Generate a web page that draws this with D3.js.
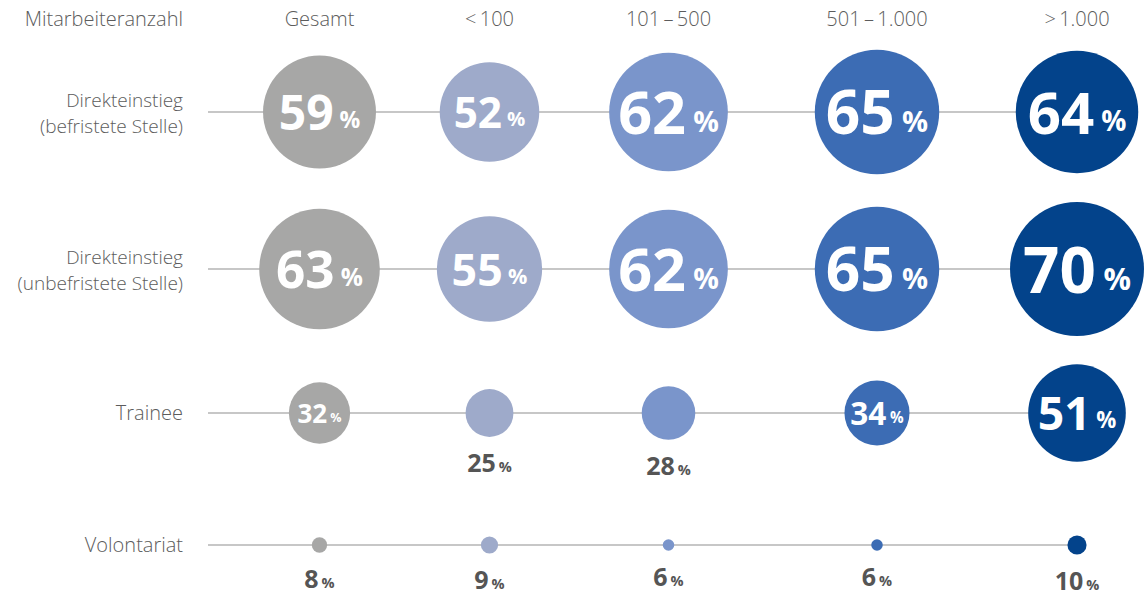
<!DOCTYPE html>
<html><head><meta charset="utf-8">
<script src="https://cdn.jsdelivr.net/npm/d3@7"></script>
<style>
body{margin:0;background:#fff;}
svg{display:block;font-family:"Open Sans","Noto Sans",sans-serif;}
</style></head>
<body><svg id="c" width="1145" height="596"></svg>
<script>
// ---- data ----
const headerLabel = "Mitarbeiteranzahl";
const categories = ["Gesamt", "<\u2009100", "101\u2009\u2013\u2009500", "501\u2009\u2013\u20091.000", ">\u20091.000"];
const rows = ["Direkteinstieg (befristete Stelle)", "Direkteinstieg (unbefristete Stelle)", "Trainee", "Volontariat"];
const rowLines = [["Direkteinstieg", "(befristete Stelle)"], ["Direkteinstieg", "(unbefristete Stelle)"], ["Trainee"], ["Volontariat"]];
const befristet   = [59, 52, 62, 65, 64];
const unbefristet = [63, 55, 62, 65, 70];
const trainee     = [32, 25, 28, 34, 51];
const volontariat = [8, 9, 6, 6, 10];
const seriesValues = [befristet, unbefristet, trainee, volontariat];

// ---- styles / layout ----
const colors = ["#a7a7a6", "#9eaaca", "#7a95cb", "#3c6cb4", "#03438b"];
const textScale = [0.85, 0.85, 1.0, 0.97, 0.95];
const svg = d3.select("#c");
const x = d3.scaleOrdinal().domain(categories).range([319.5, 489.5, 668.5, 877, 1077]);
const y = d3.scaleOrdinal().domain(rows).range([112, 269, 413, 545]);
const r = d3.scaleLinear().domain([0, 70]).range([0, 67]);
const labelColor = "#5c5c5c";
const labelSize = 20;
const lineStart = 208;

// header
svg.append("text").attr("x", 183).attr("y", 26).attr("text-anchor", "end")
  .attr("font-size", labelSize).attr("font-weight", 300).attr("fill", labelColor).text(headerLabel);
svg.selectAll("text.hdr").data(categories).join("text").attr("class", "hdr")
  .attr("x", d => x(d)).attr("y", 26).attr("text-anchor", "middle")
  .attr("font-size", labelSize).attr("font-weight", 300).attr("fill", labelColor).text(d => d);

// rows
rows.forEach((row, ri) => {
  const cy = y(row);
  const g = svg.append("g");
  g.append("line").attr("x1", lineStart).attr("x2", x(categories[categories.length - 1]))
    .attr("y1", cy).attr("y2", cy).attr("stroke", "#b4b4b4").attr("stroke-width", 1.5);
  const lines = rowLines[ri];
  lines.forEach((ln, li) => {
    const multi = lines.length > 1;
    const base = multi ? cy - 5 + li * 26 : cy + 7;
    g.append("text").attr("text-anchor", "end").attr("font-size", multi ? 19 : labelSize)
      .attr("font-weight", 300).attr("fill", labelColor)
      .attr("x", 183).attr("y", base).text(ln);
  });

  const data = categories.map((c, ci) => ({c, ci, v: seriesValues[ri][ci]}));
  g.selectAll("circle").data(data).join("circle")
    .attr("cx", d => x(d.c)).attr("cy", cy).attr("r", d => r(d.v))
    .attr("fill", d => colors[d.ci]);

  data.forEach(d => {
    const rad = r(d.v);
    if (d.v >= 30) {
      const fs = rad * textScale[d.ci];
      const tx = g.append("text").attr("x", x(d.c)).attr("y", cy + fs * 0.37)
        .attr("text-anchor", "middle").attr("fill", "#fff").attr("font-weight", 700);
      tx.append("tspan").attr("font-size", fs).text(d.v);
      tx.append("tspan").attr("font-size", fs * 0.48).attr("dx", fs * 0.12).attr("dy", -fs * 0.04).text("%");
    } else {
      const fs = 25;
      const tx = g.append("text").attr("x", x(d.c)).attr("y", cy + rad + 35)
        .attr("text-anchor", "middle").attr("fill", "#555").attr("font-weight", 700);
      tx.append("tspan").attr("font-size", fs).text(d.v);
      tx.append("tspan").attr("font-size", fs * 0.58).attr("dx", 3).text("%");
    }
  });
});
</script></body></html>
